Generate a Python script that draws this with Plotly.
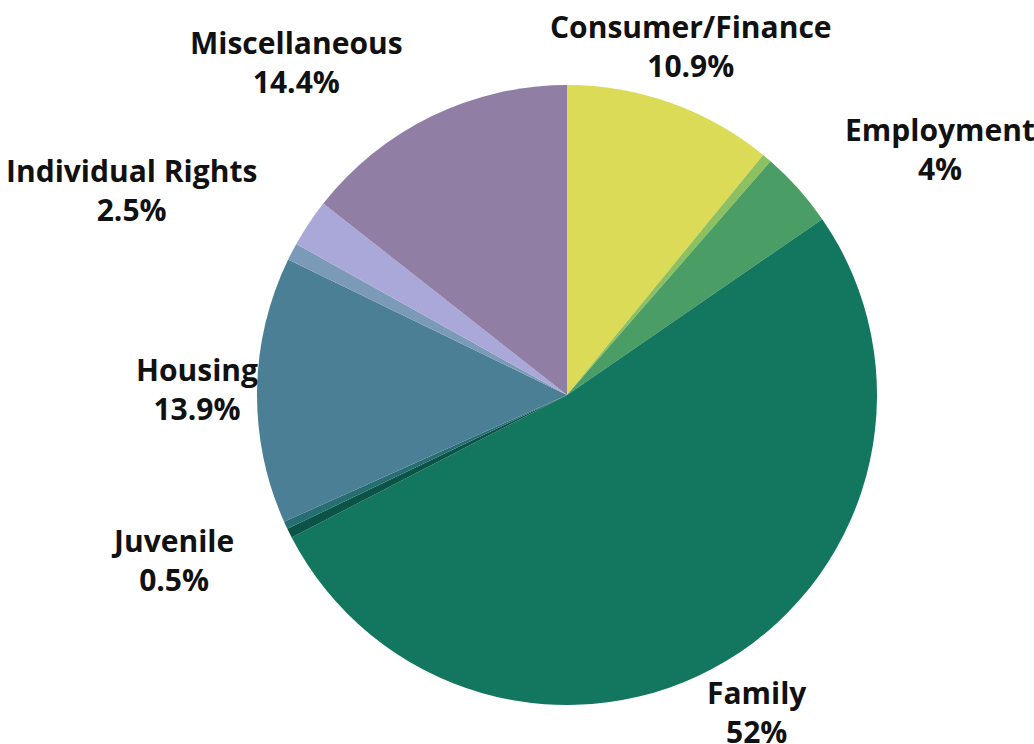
import math
import plotly.graph_objects as go

# slices clockwise from 12 o'clock; the thin unnamed slices carry no label
categories = ["Consumer/Finance", "Other A", "Employment", "Family", "Juvenile",
              "Other B", "Housing", "Other C", "Individual Rights", "Miscellaneous"]
values = [10.9, 0.5, 4, 52, 0.5, 0.4, 13.9, 0.9, 2.5, 14.4]
shown = [True, False, True, True, True, False, True, False, True, True]
pct_labels = ["10.9%", "", "4%", "52%", "0.5%", "", "13.9%", "", "2.5%", "14.4%"]

colors = ["#DCDB57", "#8DC060", "#4A9D64", "#137760", "#0B5347",
          "#266E71", "#4B7F96", "#7A9AB8", "#AAA8D8", "#917EA4"]
label_anchor = ["center", None, "left", "center", "right",
                None, "center", None, "right", "right"]

W, H = 1034, 744
cx, cy, R = 567, 395, 310
label_r = 370

fig = go.Figure(go.Pie(
    labels=categories,
    values=values,
    textinfo="none",
    sort=False,
    direction="clockwise",
    rotation=0,
    marker=dict(colors=colors, line=dict(width=0)),
    hoverinfo="label+percent",
    domain=dict(x=[(cx - R) / W, (cx + R) / W], y=[1 - (cy + R) / H, 1 - (cy - R) / H]),
))

# labels sit on a ring outside the pie, at each slice's middle angle
total = sum(values)
cum = 0
for cat, v, s, p, anc in zip(categories, values, shown, pct_labels, label_anchor):
    mid = 2 * math.pi * (cum + v / 2) / total
    cum += v
    if not s:
        continue
    px = cx + label_r * math.sin(mid)
    py = cy - label_r * math.cos(mid)
    fig.add_annotation(
        x=px / W, y=1 - py / H, xref="paper", yref="paper",
        text=f"{cat}<br>{p}", showarrow=False,
        xanchor=anc, yanchor="middle", align="center",
        font=dict(family="Open Sans", size=30, color="#111111", weight="bold"),
    )

fig.update_layout(
    width=W, height=H,
    margin=dict(l=0, r=0, t=0, b=0),
    showlegend=False,
    paper_bgcolor="white",
    plot_bgcolor="white",
)

# drop the default body margin so the figure fills the window exactly
fig.write_html("out.html", config={"displayModeBar": False},
               post_script="document.body.style.margin='0';document.body.style.overflow='hidden';")
